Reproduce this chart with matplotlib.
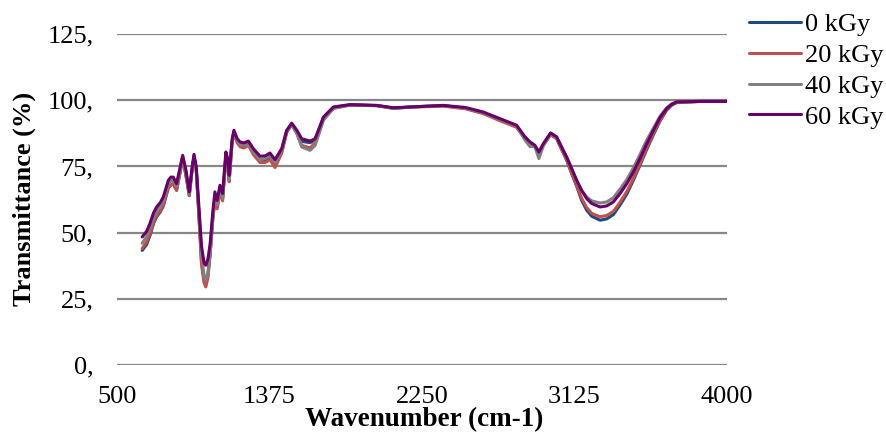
import matplotlib
matplotlib.use("Agg")
import matplotlib.pyplot as plt

plt.rcParams['font.family'] = ['Liberation Serif', 'DejaVu Serif']

wavenumber = [645, 670, 689, 710, 728, 750, 766, 795, 810, 823, 842, 860, 877, 895, 915,
              930, 942, 955, 970, 985, 1000, 1010, 1022, 1035, 1050, 1062, 1075, 1091, 1106,
              1125, 1135, 1144, 1160, 1171, 1190, 1206, 1229, 1254, 1283, 1321, 1350, 1378,
              1407, 1445, 1474, 1503, 1532, 1560, 1608, 1637, 1685, 1742, 1838, 1991, 2087,
              2183, 2372, 2500, 2601, 2697, 2793, 2841, 2870, 2898, 2921, 2946, 2988, 3023,
              3042, 3080, 3109, 3138, 3166, 3195, 3224, 3272, 3310, 3348, 3387, 3425, 3463,
              3501, 3540, 3578, 3616, 3654, 3683, 3712, 3850, 3999]

t_60 = [48.4, 50.5, 53.4, 57.5, 59.7, 61.5, 63.5, 69.8, 71.0, 71.0, 68.5, 74.0, 79.2, 74.0, 65.4,
        74.0, 79.6, 75.0, 60.0, 45.0, 38.5, 37.7, 40.0, 46.0, 58.0, 65.4, 62.2, 67.9, 64.8,
        80.5, 78.0, 71.7, 85.0, 88.7, 85.5, 84.3, 83.9, 84.6, 81.7, 78.9, 79.0, 80.1,
        77.6, 81.7, 88.7, 91.4, 88.7, 85.5, 84.6, 85.5, 93.7, 97.5, 98.4, 98.1, 97.2,
        97.5, 98.1, 97.3, 95.6, 93.1, 90.6, 86.2, 84.3, 83.0, 80.5, 83.6, 87.7, 86.2,
        83.6, 78.6, 74.2, 69.8, 66.0, 62.9, 61.0, 59.7, 60.1, 61.6, 64.8, 68.5, 72.9,
        78.0, 83.6, 88.7, 93.5, 96.9, 98.5, 99.4, 99.6, 99.6]

t_40 = [46.0, 48.5, 51.5, 55.5, 58.0, 60.0, 62.0, 68.5, 69.5, 70.0, 67.5, 73.0, 78.5, 73.0, 64.5,
        73.5, 79.0, 74.0, 58.0, 42.0, 33.5, 32.0, 35.0, 43.0, 56.0, 63.0, 60.5, 66.5, 63.0,
        79.0, 76.5, 70.0, 84.0, 88.0, 84.5, 83.5, 83.0, 83.5, 80.5, 77.5, 78.0, 79.0,
        76.5, 81.0, 88.5, 91.0, 87.5, 82.4, 81.1, 83.0, 92.5, 97.0, 98.2, 98.0, 97.0,
        97.5, 98.0, 97.0, 95.3, 92.8, 90.3, 85.0, 82.5, 82.5, 78.0, 82.8, 87.5, 86.0,
        83.5, 78.5, 74.0, 69.5, 66.0, 63.5, 62.0, 61.2, 61.6, 63.2, 66.5, 70.0, 74.5,
        79.5, 85.0, 89.5, 94.0, 97.2, 98.7, 99.4, 99.6, 99.6]

t_20 = [44.0, 46.5, 49.5, 54.0, 56.5, 58.5, 60.5, 67.0, 68.0, 68.5, 66.0, 72.0, 78.0, 72.0, 64.0,
        73.0, 78.5, 73.5, 56.5, 38.0, 31.0, 29.5, 33.0, 42.0, 55.0, 62.0, 59.0, 65.5, 62.0,
        78.5, 75.0, 69.2, 83.5, 87.5, 84.0, 82.5, 82.0, 83.0, 79.5, 76.5, 76.5, 77.5,
        74.6, 80.0, 88.0, 90.8, 87.5, 83.0, 82.0, 84.0, 93.0, 97.0, 98.2, 98.0, 97.0,
        97.4, 97.8, 96.8, 95.0, 92.3, 89.8, 85.5, 83.5, 82.5, 79.5, 83.0, 87.0, 85.5,
        82.8, 77.5, 72.5, 68.0, 63.0, 59.5, 57.3, 56.0, 56.5, 58.0, 61.5, 65.5, 70.5,
        76.0, 82.0, 87.5, 92.5, 96.5, 98.3, 99.2, 99.6, 99.6]

t_0 = [43.3, 45.5, 48.8, 53.5, 56.0, 58.0, 60.0, 67.0, 68.0, 68.5, 66.0, 72.0, 78.0, 72.0, 64.0,
       73.0, 78.5, 73.5, 57.0, 39.0, 32.0, 30.8, 34.0, 42.5, 55.5, 62.5, 59.5, 66.0, 62.5,
       79.0, 76.0, 70.0, 84.0, 88.0, 84.5, 83.0, 82.5, 83.5, 80.0, 77.0, 77.0, 78.0,
       75.5, 80.5, 88.0, 91.0, 88.0, 84.5, 84.0, 85.0, 93.5, 97.3, 98.3, 98.0, 97.0,
       97.5, 98.0, 97.0, 95.2, 92.7, 90.1, 85.8, 83.8, 82.7, 79.5, 83.2, 87.2, 85.7,
       82.8, 77.5, 72.3, 67.5, 62.2, 58.5, 56.2, 54.7, 55.2, 56.8, 60.5, 64.5, 69.8,
       75.5, 81.5, 87.0, 92.2, 96.3, 98.2, 99.2, 99.6, 99.6]

series = [("0 kGy", t_0, "#1F497D"),
          ("20 kGy", t_20, "#C0504D"),
          ("40 kGy", t_40, "#808080"),
          ("60 kGy", t_60, "#660066")]

x_ticks = [500, 1375, 2250, 3125, 4000]
y_ticks = [0, 25, 50, 75, 100, 125]
y_labels = ["0,", "25,", "50,", "75,", "100,", "125,"]

fig = plt.figure(figsize=(8.86, 4.44), dpi=100)
ax = fig.add_axes([0.132, 0.178, 0.6885, 0.745])

for name, vals, col in series:
    ax.plot(wavenumber, vals, color=col, lw=2.2, label=name,
            solid_joinstyle='round', solid_capstyle='round')

ax.set_xlim(500, 4000)
ax.set_ylim(0, 125)
ax.set_xticks(x_ticks)
ax.set_yticks(y_ticks)
ax.set_yticklabels(y_labels)
ax.grid(axis='y', color='#878787', lw=1.6)
ax.set_axisbelow(True)
for s in ax.spines.values():
    s.set_visible(False)
ax.tick_params(length=0, labelsize=19, colors='black')
ax.tick_params(axis='x', pad=15)
ax.tick_params(axis='y', pad=17)

ax.set_xlabel("Wavenumber (cm-1)", fontsize=19.5, fontweight='bold')
ax.set_ylabel("Transmittance (%)", fontsize=19, fontweight='bold')
ax.xaxis.set_label_coords(0.503, -0.128)
ax.yaxis.set_label_coords(-0.133, 0.503)

fig.legend(loc='upper left', bbox_to_anchor=(0.842, 0.9775), frameon=False,
           fontsize=19, handlelength=2.0, handletextpad=0.12, labelspacing=0.28,
           borderaxespad=0, borderpad=0.1)

fig.savefig("out.png", dpi=100)
